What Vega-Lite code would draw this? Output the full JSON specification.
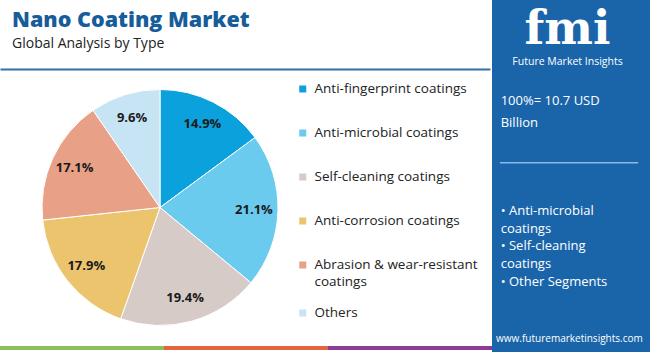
{
  "$schema": "https://vega.github.io/schema/vega-lite/v6.json",
  "padding": 0,
  "background": "white",
  "spacing": 0,
  "config": {
    "view": {"stroke": null},
    "font": "Open Sans",
    "style": {"guide-label": {"lineHeight": 17}}
  },
  "resolve": {"scale": {"color": "independent"}, "legend": {"color": "independent"}},
  "hconcat": [
    {
      "spacing": 0,
      "resolve": {"scale": {"color": "independent"}, "legend": {"color": "independent"}},
      "vconcat": [
        {
          "width": 490,
          "height": 69,
          "data": {
            "values": [
              {"key": "title", "text": "Nano Coating Market"},
              {"key": "subtitle", "text": "Global Analysis by Type"}
            ]
          },
          "encoding": {
            "y": {
              "field": "key",
              "type": "nominal",
              "axis": null,
              "scale": {
                "type": "point",
                "padding": 0,
                "domain": ["s0","s1","s2","s3","s4","s5","s6","s7","s8","title","s10","s11","s12","s13","s14","s15","subtitle","s17","s18","s19","s20","s21","s22","s23"]
              }
            },
            "x": {
              "datum": 0.0245,
              "type": "quantitative",
              "scale": {"domain": [0, 1]},
              "axis": {"orient": "bottom", "domainColor": "#3071aa", "domainWidth": 2, "ticks": false, "labels": false, "grid": false, "title": null}
            },
            "text": {"field": "text"}
          },
          "layer": [
            {
              "transform": [{"filter": "datum.key == 'title'"}],
              "mark": {"type": "text", "font": "Open Sans", "fontSize": 21.5, "fontWeight": 800, "color": "#175d99", "align": "left", "baseline": "alphabetic"}
            },
            {
              "transform": [{"filter": "datum.key == 'subtitle'"}],
              "mark": {"type": "text", "font": "Open Sans", "fontSize": 14, "color": "#222222", "align": "left", "baseline": "alphabetic"}
            }
          ]
        },
        {
          "width": 320,
          "height": 277,
          "data": {
            "values": [
              {"type": "Anti-fingerprint coatings", "share": 0.149, "rank": 1},
              {"type": "Anti-microbial coatings", "share": 0.211, "rank": 2},
              {"type": "Self-cleaning coatings", "share": 0.194, "rank": 3},
              {"type": "Anti-corrosion coatings", "share": 0.179, "rank": 4},
              {"type": "Abrasion & wear-resistant coatings", "share": 0.171, "rank": 5},
              {"type": "Others", "share": 0.096, "rank": 6}
            ]
          },
          "encoding": {
            "theta": {"field": "share", "type": "quantitative", "stack": true},
            "order": {"field": "rank", "type": "quantitative", "sort": "ascending"}
          },
          "layer": [
            {
              "mark": {"type": "arc", "outerRadius": 118, "stroke": "white", "strokeWidth": 1},
              "encoding": {
                "color": {
                  "field": "type",
                  "type": "nominal",
                  "sort": null,
                  "scale": {
                    "domain": ["Anti-fingerprint coatings", "Anti-microbial coatings", "Self-cleaning coatings", "Anti-corrosion coatings", "Abrasion & wear-resistant coatings", "Others"],
                    "range": ["#0aa1dc", "#6acbef", "#d7cbc8", "#ebc46d", "#e8a087", "#c6e4f4"]
                  },
                  "legend": {
                    "title": null,
                    "orient": "right",
                    "offset": -24,
                    "padding": 0,
                    "symbolType": "square",
                    "symbolSize": 49,
                    "symbolStrokeWidth": 0,
                    "labelFont": "Open Sans",
                    "labelFontSize": 13.5,
                    "labelColor": "#222222",
                    "labelOffset": 5,
                    "labelLimit": 200,
                    "rowPadding": 4,
                    "clipHeight": 40,
                    "labelBaseline": "middle",
                    "labelExpr": "datum.label == 'Abrasion & wear-resistant coatings' ? ['Abrasion & wear-resistant', 'coatings'] : datum.label"
                  }
                }
              }
            },
            {
              "mark": {"type": "text", "radius": 94, "fontSize": 13, "fontWeight": "bold", "color": "#1a1a1a", "font": "Open Sans"},
              "encoding": {
                "text": {"field": "share", "type": "quantitative", "format": ".1%"}
              }
            }
          ]
        },
        {
          "width": 492,
          "height": 4,
          "data": {"values": [{"seg": "a"}, {"seg": "b"}, {"seg": "c"}]},
          "mark": "rect",
          "encoding": {
            "x": {"field": "seg", "type": "nominal", "scale": {"paddingInner": 0, "paddingOuter": 0}, "axis": null},
            "color": {"field": "seg", "type": "nominal", "scale": {"range": ["#8dc05b", "#e3653b", "#8e3b96"]}, "legend": null}
          }
        }
      ]
    },
    {
      "width": 158,
      "height": 352,
      "view": {"fill": "#1a65a9", "stroke": null},
      "data": {
        "values": [
          {"key": "logo", "text": "fmi"},
          {"key": "brand", "text": "Future Market Insights"},
          {"key": "total1", "text": "100%= 10.7 USD"},
          {"key": "total2", "text": "Billion"},
          {"key": "sep", "text": ""},
          {"key": "b1", "text": "• Anti-microbial"},
          {"key": "b1b", "text": "coatings"},
          {"key": "b2", "text": "• Self-cleaning"},
          {"key": "b2b", "text": "coatings"},
          {"key": "b3", "text": "• Other Segments"},
          {"key": "web", "text": "www.futuremarketinsights.com"}
        ]
      },
      "encoding": {
        "y": {
          "field": "key",
          "type": "nominal",
          "axis": null,
          "scale": {
            "type": "point",
            "padding": 0,
            "domain": ["s0","s1","s2","s3","s4","s5","s6","s7","s8","s9","logo","s11","s12","s13","brand","s15","s16","s17","s18","s19","s20","s21","s22","total1","s24","s25","s26","s27","total2","s29","s30","s31","s32","s33","s34","s35","s36","sep","s38","s39","s40","s41","s42","s43","s44","s45","s46","s47","b1","s49","s50","s51","b1b","s53","s54","s55","b2","s57","s58","s59","b2b","s61","s62","s63","b3","s65","s66","s67","s68","s69","s70","s71","s72","s73","s74","s75","s76","web","s78","s79","s80"]
          }
        }
      },
      "layer": [
        {
          "transform": [{"filter": "datum.key == 'logo'"}],
          "mark": {"type": "text", "font": "DejaVu Serif", "fontSize": 46, "fontWeight": "bold", "color": "white", "align": "center", "baseline": "alphabetic"},
          "encoding": {
            "x": {"datum": 0.478, "type": "quantitative", "scale": {"domain": [0, 1]}, "axis": null},
            "text": {"field": "text"}
          }
        },
        {
          "transform": [{"filter": "datum.key == 'brand'"}],
          "mark": {"type": "text", "font": "Open Sans", "fontSize": 10.5, "color": "white", "align": "center", "baseline": "middle"},
          "encoding": {
            "x": {"datum": 0.478, "type": "quantitative", "scale": {"domain": [0, 1]}, "axis": null},
            "text": {"field": "text"}
          }
        },
        {
          "transform": [{"filter": "indexof(['total1','total2','b1','b1b','b2','b2b','b3'], datum.key) >= 0"}],
          "mark": {"type": "text", "font": "Open Sans", "fontSize": 13, "color": "white", "align": "left", "baseline": "middle"},
          "encoding": {
            "x": {"datum": 0.055, "type": "quantitative", "scale": {"domain": [0, 1]}, "axis": null},
            "text": {"field": "text"}
          }
        },
        {
          "transform": [{"filter": "datum.key == 'web'"}],
          "mark": {"type": "text", "font": "Open Sans", "fontSize": 10, "color": "white", "align": "center", "baseline": "middle"},
          "encoding": {
            "x": {"datum": 0.49, "type": "quantitative", "scale": {"domain": [0, 1]}, "axis": null},
            "text": {"field": "text"}
          }
        },
        {
          "transform": [{"filter": "datum.key == 'sep'"}],
          "mark": {"type": "rule", "color": "#8cb8e2", "strokeWidth": 1.5},
          "encoding": {
            "x": {"datum": 0.05, "type": "quantitative", "scale": {"domain": [0, 1]}, "axis": null},
            "x2": {"datum": 0.925}
          }
        }
      ]
    }
  ]
}
